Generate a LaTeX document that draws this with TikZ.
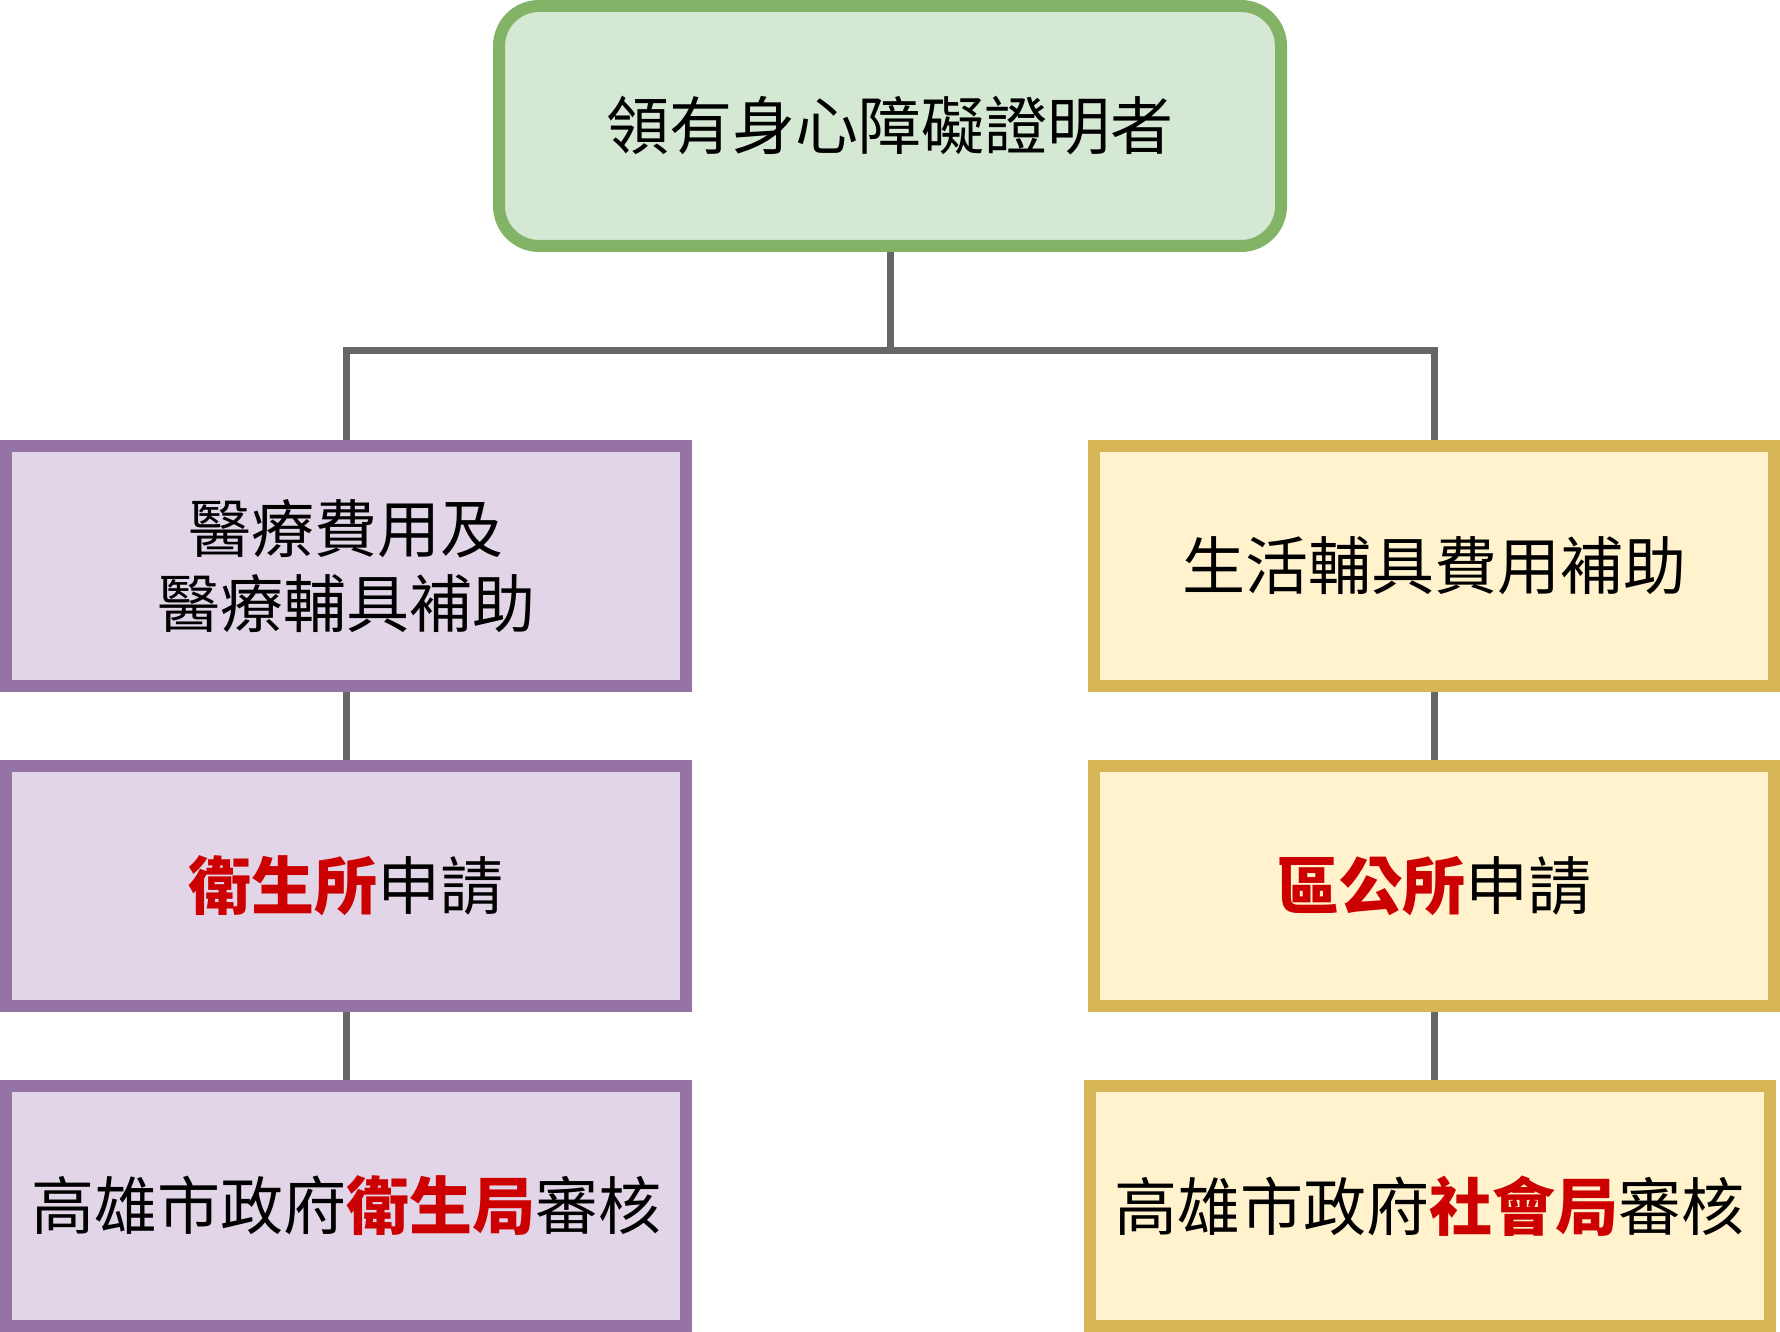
\documentclass[tikz,border=0pt]{standalone}
\usepackage{fontspec}
\setmainfont{Noto Sans CJK TC}
\usetikzlibrary{backgrounds}
\definecolor{gstroke}{HTML}{82B366}
\definecolor{gfill}{HTML}{D5E8D4}
\definecolor{pstroke}{HTML}{9673A6}
\definecolor{pfill}{HTML}{E1D5E7}
\definecolor{ystroke}{HTML}{D6B656}
\definecolor{yfill}{HTML}{FFF2CC}
\definecolor{lgray}{HTML}{666666}
\definecolor{hired}{HTML}{CC0000}
\newcommand{\hlred}[1]{\textcolor{hired}{\bfseries #1}}
\begin{document}
\begin{tikzpicture}[x=1pt,y=-1pt,
  boxbase/.style={rectangle, line width=12pt, inner sep=0pt, align=center,
    font=\fontsize{63pt}{75pt}\selectfont, text=black},
  topbox/.style={boxbase, draw=gstroke, fill=gfill, rounded corners=40pt,
    minimum width=782pt, minimum height=240pt},
  pbox/.style={boxbase, draw=pstroke, fill=pfill, minimum width=680pt, minimum height=240pt},
  ybox/.style={boxbase, draw=ystroke, fill=yfill, minimum width=680pt, minimum height=240pt},
  conn/.style={draw=lgray, line width=7pt, line join=miter}
]
\useasboundingbox (0,0) rectangle (1780,1332);
\node[topbox] (top) at (890,126) {領有身心障礙證明者};
\node[pbox] (l1) at (346,566) {醫療費用及\\醫療輔具補助};
\node[pbox] (l2) at (346,886) {\hlred{衛生所}申請};
\node[pbox] (l3) at (346,1206) {高雄市政府\hlred{衛生局}審核};
\node[ybox] (r1) at (1434,566) {生活輔具費用補助};
\node[ybox] (r2) at (1434,886) {\hlred{區公所}申請};
\node[ybox] (r3) at (1429.5,1206) {高雄市政府\hlred{社會局}審核};
\coordinate (j) at (890,350);
\begin{scope}[on background layer]
\draw[conn] (top.south) -- (j);
\draw[conn] (l1.north) |- (j) -| (r1.north);
\draw[conn] (l1.south) -- (l2.north);
\draw[conn] (l2.south) -- (l3.north);
\draw[conn] (r1.south) -- (r2.north);
\draw[conn] (r2.south) -- (r2.south |- r3.north);
\end{scope}
\end{tikzpicture}
\end{document}
